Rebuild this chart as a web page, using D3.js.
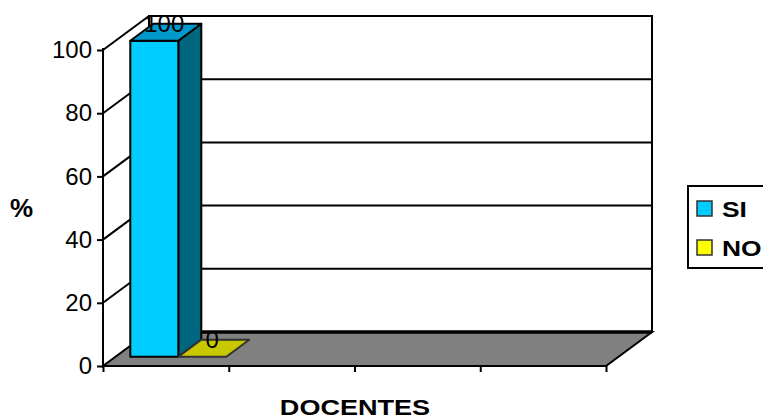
<!DOCTYPE html>
<html>
<head>
<meta charset="utf-8">
<script src="https://cdn.jsdelivr.net/npm/d3@7"></script>
<style>
  html, body { margin: 0; padding: 0; background: #fff; }
  svg { display: block; }
  text { font-family: Arial, "Liberation Sans", sans-serif; }
</style>
</head>
<body>
<svg id="chart" width="763" height="420"></svg>
<script>
// Data
const categories = ["", "", "", ""];          // four slots on the category axis
const seriesNames = ["SI", "NO"];
const siValues = [100, null, null, null];
const noValues = [0, null, null, null];
const yTicks = [0, 20, 40, 60, 80, 100];
const yTitle = "%";
const xTitle = "DOCENTES";

const seriesColors = {
  SI: { front: "#00CCFF", side: "#006680", top: "#0099CC", legend: "#00CCFF" },
  NO: { front: "#FFFF00", side: "#808000", top: "#C8C800", legend: "#FFFF00" }
};

const svg = d3.select("#chart");

// Front plane geometry and the depth offset of the 3D box
const left = 103, right = 606, floorY = 366, topY = 50;
const depthX = 46, depthY = -34;
const shift = (p, d) => [p[0] + depthX * d, p[1] + depthY * d];

const y = d3.scaleLinear().domain([0, 100]).range([floorY, topY]);
const x = d3.scaleBand().domain(d3.range(categories.length)).range([left, right]).paddingInner(0).paddingOuter(0);
const xs = d3.scaleBand().domain(seriesNames).range([0, x.bandwidth()]).paddingInner(0).paddingOuter(0.31);

// Back wall
const wall = svg.append("g");
const bl = shift([left, y(0)], 1), br = shift([right, y(0)], 1);
const tl = shift([left, y(100)], 1), tr = shift([right, y(100)], 1);
wall.append("rect")
  .attr("x", tl[0]).attr("y", tl[1])
  .attr("width", tr[0] - tl[0]).attr("height", bl[1] - tl[1])
  .attr("fill", "#fff").attr("stroke", "#000").attr("stroke-width", 2);

// Gridlines on the back wall and diagonals on the side wall
yTicks.filter(v => v > 0).forEach(v => {
  const a = [left, y(v)], b = shift(a, 1), c = shift([right, y(v)], 1);
  wall.append("line").attr("x1", b[0]).attr("y1", b[1]).attr("x2", c[0]).attr("y2", c[1])
    .attr("stroke", "#000").attr("stroke-width", 2);
  wall.append("line").attr("x1", a[0]).attr("y1", a[1]).attr("x2", b[0]).attr("y2", b[1])
    .attr("stroke", "#000").attr("stroke-width", 2);
});

// Floor
const floorPts = [[left, y(0)], [right, y(0)], br, bl];
svg.append("polygon")
  .attr("points", floorPts.map(p => p.join(",")).join(" "))
  .attr("fill", "#808080").attr("stroke", "#000").attr("stroke-width", 2);
svg.append("line").attr("x1", bl[0]).attr("y1", bl[1]).attr("x2", br[0]).attr("y2", br[1])
  .attr("stroke", "#000").attr("stroke-width", 3.5);

// Bars
const d0 = 0.27, d1 = 0.77;
const bars = [];
categories.forEach((c, i) => {
  [["SI", siValues[i]], ["NO", noValues[i]]].forEach(([s, v]) => {
    if (v === null || v === undefined) return;
    bars.push({ i, s, v });
  });
});

const barG = svg.append("g");
bars.forEach(b => {
  const x0 = x(b.i) + xs(b.s), x1 = x0 + xs.bandwidth();
  const col = seriesColors[b.s];
  const stroke = b.v === 0 ? "#333" : "#000";
  const fl = shift([x0, y(0)], d0), fr = shift([x1, y(0)], d0);
  const ftl = shift([x0, y(b.v)], d0), ftr = shift([x1, y(b.v)], d0);
  const btl = shift([x0, y(b.v)], d1), btr = shift([x1, y(b.v)], d1), bbr = shift([x1, y(0)], d1);
  const poly = (pts, fill) => barG.append("polygon")
    .attr("points", pts.map(p => p.join(",")).join(" "))
    .attr("fill", fill).attr("stroke", stroke).attr("stroke-width", 2)
    .attr("stroke-linejoin", "round");
  if (b.v > 0) {
    poly([ftr, fr, bbr, btr], col.side);
    poly([ftl, ftr, fr, fl], col.front);
  }
  poly([ftl, ftr, btr, btl], col.top);
  // value label, sitting over the top face
  barG.append("text")
    .attr("x", (ftl[0] + ftr[0]) / 2 + 10)
    .attr("y", ftl[1] - 9)
    .attr("text-anchor", "middle")
    .attr("font-size", 24)
    .attr("fill", "#000")
    .text(b.v);
});

// Value axis on the front plane
const yAxis = svg.append("g")
  .attr("transform", `translate(${left},0)`)
  .call(d3.axisLeft(y).tickValues(yTicks).tickSize(6).tickPadding(5).tickFormat(d3.format("d")));
yAxis.select(".domain").attr("d", `M0,${y(100) - 2}V${y(0) + 2}`).attr("stroke", "#000").attr("stroke-width", 2);
yAxis.selectAll(".tick line").attr("stroke", "#000").attr("stroke-width", 2);
yAxis.selectAll(".tick text").attr("font-size", 24).attr("fill", "#000")
  .attr("font-family", "Arial, 'Liberation Sans', sans-serif");

// Category axis along the front floor edge
const xEdge = d3.scaleLinear().domain([0, categories.length]).range([left, right]);
const xAxis = svg.append("g")
  .attr("transform", `translate(0,${floorY})`)
  .call(d3.axisBottom(xEdge).tickValues(d3.range(categories.length + 1)).tickSize(6).tickFormat(() => ""));
xAxis.select(".domain").attr("stroke", "#000").attr("stroke-width", 2).attr("d", `M${left},0H${right}`);
xAxis.selectAll(".tick line").attr("stroke", "#000").attr("stroke-width", 2);

// Axis titles
svg.append("text")
  .attr("x", 10).attr("y", 217)
  .attr("font-size", 26).attr("font-weight", "bold").text(yTitle);
svg.append("text")
  .attr("transform", "translate(355,415) scale(1.23,1.02)")
  .attr("text-anchor", "middle")
  .attr("font-size", 22).attr("font-weight", "bold").text(xTitle);

// Legend
const legend = svg.append("g");
legend.append("rect")
  .attr("x", 688).attr("y", 186).attr("width", 100).attr("height", 82)
  .attr("fill", "#fff").attr("stroke", "#000").attr("stroke-width", 2);
seriesNames.forEach((s, k) => {
  const ly = 201 + k * 39;
  legend.append("rect")
    .attr("x", 697).attr("y", ly).attr("width", 15).attr("height", 15)
    .attr("fill", seriesColors[s].legend).attr("stroke", "#333").attr("stroke-width", 1.5);
  legend.append("text")
    .attr("transform", `translate(722,${ly + 16}) scale(1.2,1)`)
    .attr("font-size", 22).attr("font-weight", "bold").text(s);
});
</script>
</body>
</html>
